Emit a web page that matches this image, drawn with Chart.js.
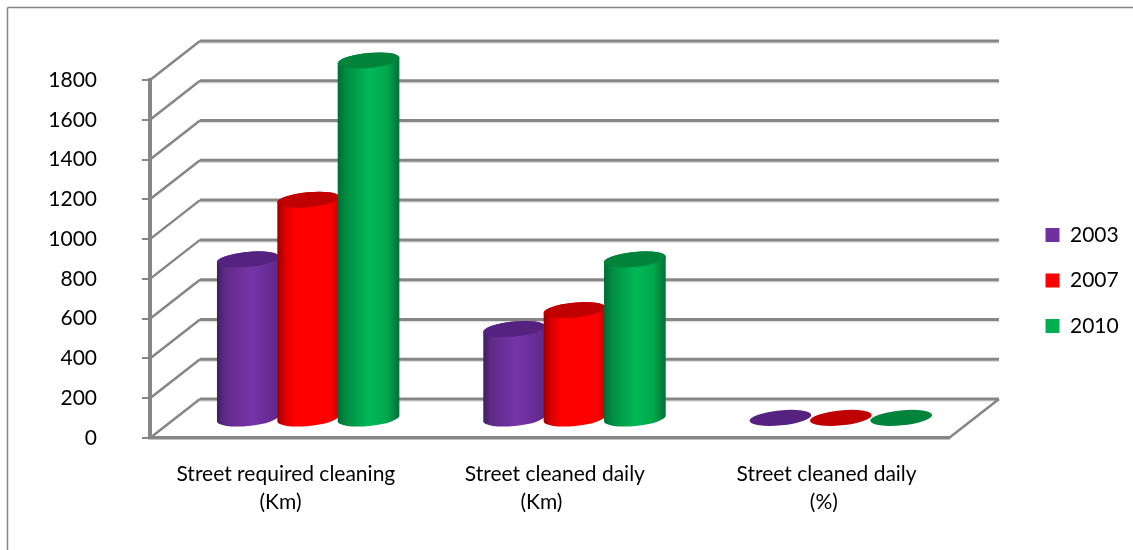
<!DOCTYPE html>
<html>
<head>
<meta charset="utf-8">
<title>Street cleaning</title>
<script src="https://cdn.jsdelivr.net/npm/chart.js@4/dist/chart.umd.js"></script>
<style>
  html,body { margin:0; padding:0; background:#fff; }
  canvas { display:block; }
</style>
</head>
<body>
<canvas id="c" width="1133" height="550"></canvas>
<script>
/* the spaces nudge each line off-centre, as in the original */
const CATEGORIES = [[' Street required cleaning','(Km) '], ['  Street cleaned daily','(Km)   '], ['    Street cleaned daily','   (%)']];
const YEARS   = ['2003','2007','2010'];
const VAL_2003 = [800, 450, 3];
const VAL_2007 = [1100, 545, 3];
const VAL_2010 = [1800, 800, 3];
const Y_MAX  = 1800;
const Y_STEP = 200;

const AXIS_GREY = '#868686';
const FILLS = ['#7030A0','#FF0000','#00B050'];
const TOPS  = ['#55237F','#C00000','#00843C'];
/* horizontal shading across a cylinder: stop, colour */
const SHADES = [
  [[0,'#3D2060'],[.12,'#5C2A85'],[.35,'#6C2F9A'],[.55,'#7535A8'],[.8,'#6A2D98'],[1,'#5F2888']],
  [[0,'#9A0000'],[.14,'#E00000'],[.3,'#FF0000'],[.85,'#FF0000'],[1,'#C80000']],
  [[0,'#006B36'],[.15,'#008F42'],[.5,'#00B858'],[.8,'#00A84C'],[1,'#006F38']],
];

/* 3D depth of the floor, in px */
const DEPTH_X = 50, DEPTH_Y = 39;
const TILT = -5.5 * Math.PI / 180;
const RY = 7.5;

function line(ctx, x1, y1, x2, y2, color, w) {
  ctx.strokeStyle = color; ctx.lineWidth = w;
  ctx.beginPath(); ctx.moveTo(x1,y1); ctx.lineTo(x2,y2); ctx.stroke();
}

function drawWalls(chart) {
  const { ctx, chartArea:a, scales:{y} } = chart;
  y.ticks.forEach(t => {
    const py = y.getPixelForValue(t.value);
    line(ctx, a.left+DEPTH_X, py-DEPTH_Y+2, a.right+DEPTH_X, py-DEPTH_Y+2, '#E0E0E0', 1.5);
    line(ctx, a.left+DEPTH_X, py-DEPTH_Y, a.right+DEPTH_X, py-DEPTH_Y, AXIS_GREY, 3);
    line(ctx, a.left, py, a.left+DEPTH_X, py-DEPTH_Y, AXIS_GREY, 2.5);
  });
  line(ctx, a.right, a.bottom, a.right+DEPTH_X, a.bottom-DEPTH_Y, AXIS_GREY, 2.5);
}

function drawCylinder(ctx, bar, i, y) {
  const rx = bar.width/2 + 0.8;
  const cx = bar.x + DEPTH_X/2;
  const top = bar.y - DEPTH_Y/2;
  const bot = y.getPixelForValue(0) - DEPTH_Y/2;
  const dx = rx*Math.cos(TILT), dy = rx*Math.sin(TILT);

  if (bot - top > 1) {
    const g = ctx.createLinearGradient(cx-rx, 0, cx+rx, 0);
    SHADES[i].forEach(s => g.addColorStop(s[0], s[1]));
    ctx.fillStyle = g;
    ctx.beginPath();
    ctx.ellipse(cx, bot, rx, RY, TILT, 0, Math.PI);
    ctx.lineTo(cx-dx, top-dy);
    ctx.ellipse(cx, top, rx, RY, TILT, Math.PI, 2*Math.PI);
    ctx.closePath();
    ctx.fill();
  }
  ctx.fillStyle = TOPS[i];
  ctx.beginPath();
  ctx.ellipse(cx, top, rx, RY, TILT, 0, 2*Math.PI);
  ctx.fill();
}

const pseudo3d = {
  id:'pseudo3d',
  beforeLayout(chart) {
    /* keep the plot's right edge fixed, whatever the legend measures */
    const lg = chart.legend;
    if (!lg.fitWrapped) {
      const fit = lg.fit;
      lg.fit = function() { fit.call(this); this.width = 184; };
      lg.fitWrapped = true;
    }
  },
  afterLayout(chart) {
    chart.legend.left = 1021;
    chart.legend.top = 200;
  },
  beforeDraw(chart) {
    const { ctx, width, height } = chart;
    ctx.save();
    ctx.fillStyle = '#fff'; ctx.fillRect(0,0,width,height);
    line(ctx, 7.5, height, 7.5, 7.5, AXIS_GREY, 1.5);
    line(ctx, 7.5, 7.5, width, 7.5, AXIS_GREY, 1.5);
    ctx.restore();
  },
  beforeDatasetsDraw(chart) {
    const { ctx, scales:{y} } = chart;
    ctx.save();
    drawWalls(chart);
    chart.data.datasets.forEach((ds, i) => {
      chart.getDatasetMeta(i).data.forEach(bar => drawCylinder(ctx, bar, i, y));
    });
    ctx.restore();
    return false;
  }
};

new Chart(document.getElementById('c'), {
  type:'bar',
  data:{
    labels: CATEGORIES,
    datasets:[
      { label:YEARS[0], data:VAL_2003, backgroundColor:FILLS[0] },
      { label:YEARS[1], data:VAL_2007, backgroundColor:FILLS[1] },
      { label:YEARS[2], data:VAL_2010, backgroundColor:FILLS[2] },
    ]
  },
  plugins:[pseudo3d],
  options:{
    responsive:false, animation:false, events:[],
    categoryPercentage:.68, barPercentage:1,
    layout:{ padding:{ top:80, left:0, right:0, bottom:0 } },
    plugins:{
      tooltip:{ enabled:false },
      legend:{ display:true, position:'right', align:'start',
        labels:{ color:'#000', font:{family:'Lato',size:21}, boxWidth:14, boxHeight:14, padding:24.5 } }
    },
    scales:{
      x:{
        afterFit: s => { s.height = 112; },
        grid:{ drawOnChartArea:false, drawTicks:false },
        border:{ color:AXIS_GREY, width:3.5 },
        ticks:{ color:'#000', font:{family:'Lato',size:21,lineHeight:1.3}, padding:23, maxRotation:0, autoSkip:false }
      },
      y:{
        min:0, max:Y_MAX,
        afterFit: s => { s.width = 150; },
        grid:{ drawOnChartArea:false, color:AXIS_GREY, lineWidth:2, tickLength:8 },
        border:{ color:AXIS_GREY, width:4 },
        ticks:{ stepSize:Y_STEP, color:'#000', font:{family:'Lato',size:21}, padding:45, callback: v => String(v) }
      }
    }
  }
});
</script>
</body>
</html>
